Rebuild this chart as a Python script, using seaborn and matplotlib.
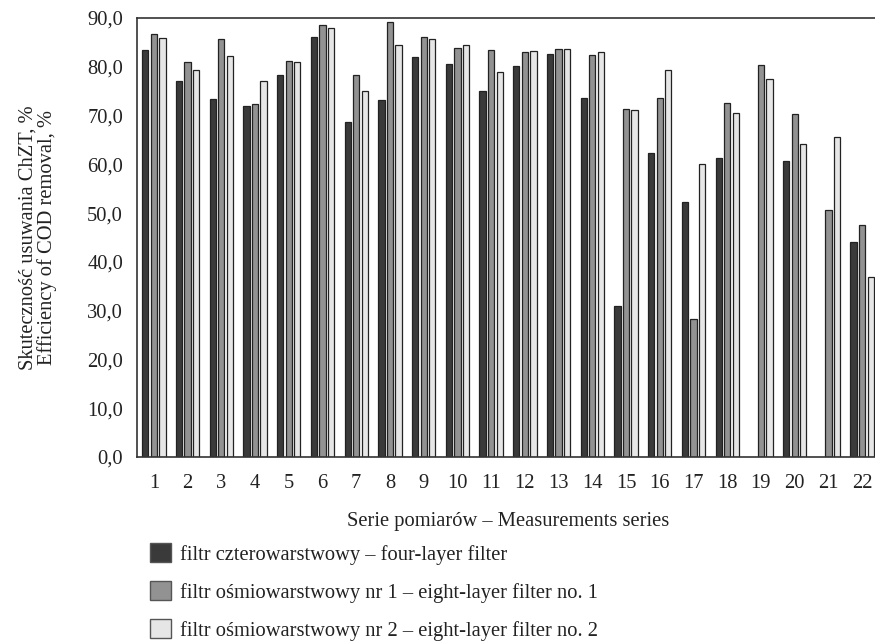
import matplotlib
matplotlib.use("Agg")
import matplotlib.pyplot as plt
import seaborn as sns
import numpy as np
import pandas as pd
from matplotlib.patches import Patch

series = [str(i) for i in range(1, 23)]
four_layer = [83.4, 77.0, 73.3, 71.9, 78.4, 86.1, 68.7, 73.1, 82.0, 80.5, 75.1,
              80.1, 82.6, 73.7, 30.9, 62.3, 52.3, 61.3, np.nan, 60.6, np.nan, 44.0]
eight_layer_1 = [86.8, 81.0, 85.6, 72.3, 81.1, 88.5, 78.3, 89.1, 86.1, 83.9, 83.4,
                 83.0, 83.7, 82.4, 71.4, 73.5, 28.2, 72.6, 80.3, 70.4, 50.7, 47.5]
eight_layer_2 = [86.0, 79.4, 82.2, 77.0, 80.9, 87.9, 75.1, 84.4, 85.7, 84.4, 78.9,
                 83.2, 83.6, 83.1, 71.2, 79.3, 60.1, 70.6, 77.5, 64.2, 65.7, 37.0]
labels = ["filtr czterowarstwowy – four-layer filter",
          "filtr ośmiowarstwowy nr 1 – eight-layer filter no. 1",
          "filtr ośmiowarstwowy nr 2 – eight-layer filter no. 2"]
colors = ["#3a3a3a", "#929292", "#e6e6e6"]
yticks = [0, 10, 20, 30, 40, 50, 60, 70, 80, 90]

rows = []
for lab, vals in zip(labels, [four_layer, eight_layer_1, eight_layer_2]):
    for s, v in zip(series, vals):
        rows.append({"series": s, "filter": lab, "value": v})
df = pd.DataFrame(rows)

sns.set_theme(style="white")
plt.rcParams["font.family"] = ["Liberation Serif", "DejaVu Serif"]
plt.rcParams["text.color"] = "#222222"
FS = 14.8

fig = plt.figure(figsize=(8.75, 6.42), dpi=100)
ax = fig.add_axes([137/875, 1 - 457/642, (879 - 137)/875, (457 - 18)/642])

sns.barplot(data=df.dropna(), x="series", y="value", hue="filter",
            order=series, hue_order=labels, palette=colors,
            width=0.76, gap=0.26, edgecolor="#222222", linewidth=0.9,
            saturation=1, ax=ax, legend=False)

ax.set_xlim(-0.5, 21.5)
ax.set_ylim(0, 90)
ax.set_yticks(yticks)
ax.set_yticklabels([f"{t:.1f}".replace(".", ",") for t in yticks])
ax.tick_params(axis="both", length=0, labelsize=FS, colors="#222222")
ax.tick_params(axis="y", pad=10)
ax.tick_params(axis="x", pad=12)
for side in ["left", "bottom", "top"]:
    ax.spines[side].set_color("#333333")
    ax.spines[side].set_linewidth(1.2)
ax.spines["right"].set_visible(False)

ax.set_xlabel("Serie pomiarów – Measurements series", fontsize=FS, labelpad=14,
              color="#222222")
ax.set_ylabel("Skuteczność usuwania ChZT, %\nEfficiency of COD removal, %",
              fontsize=FS, labelpad=22, color="#222222", linespacing=0.95)

handles = [Patch(facecolor=c, edgecolor="#555555", linewidth=1.0) for c in colors]
fig.legend(handles, labels, loc="upper left", bbox_to_anchor=(150/875, 1 - 543/642),
           frameon=False, fontsize=FS, handlelength=1.0, handleheight=1.05,
           labelspacing=0.8, handletextpad=0.48, borderaxespad=0, borderpad=0)

fig.savefig("out.png", dpi=100)
